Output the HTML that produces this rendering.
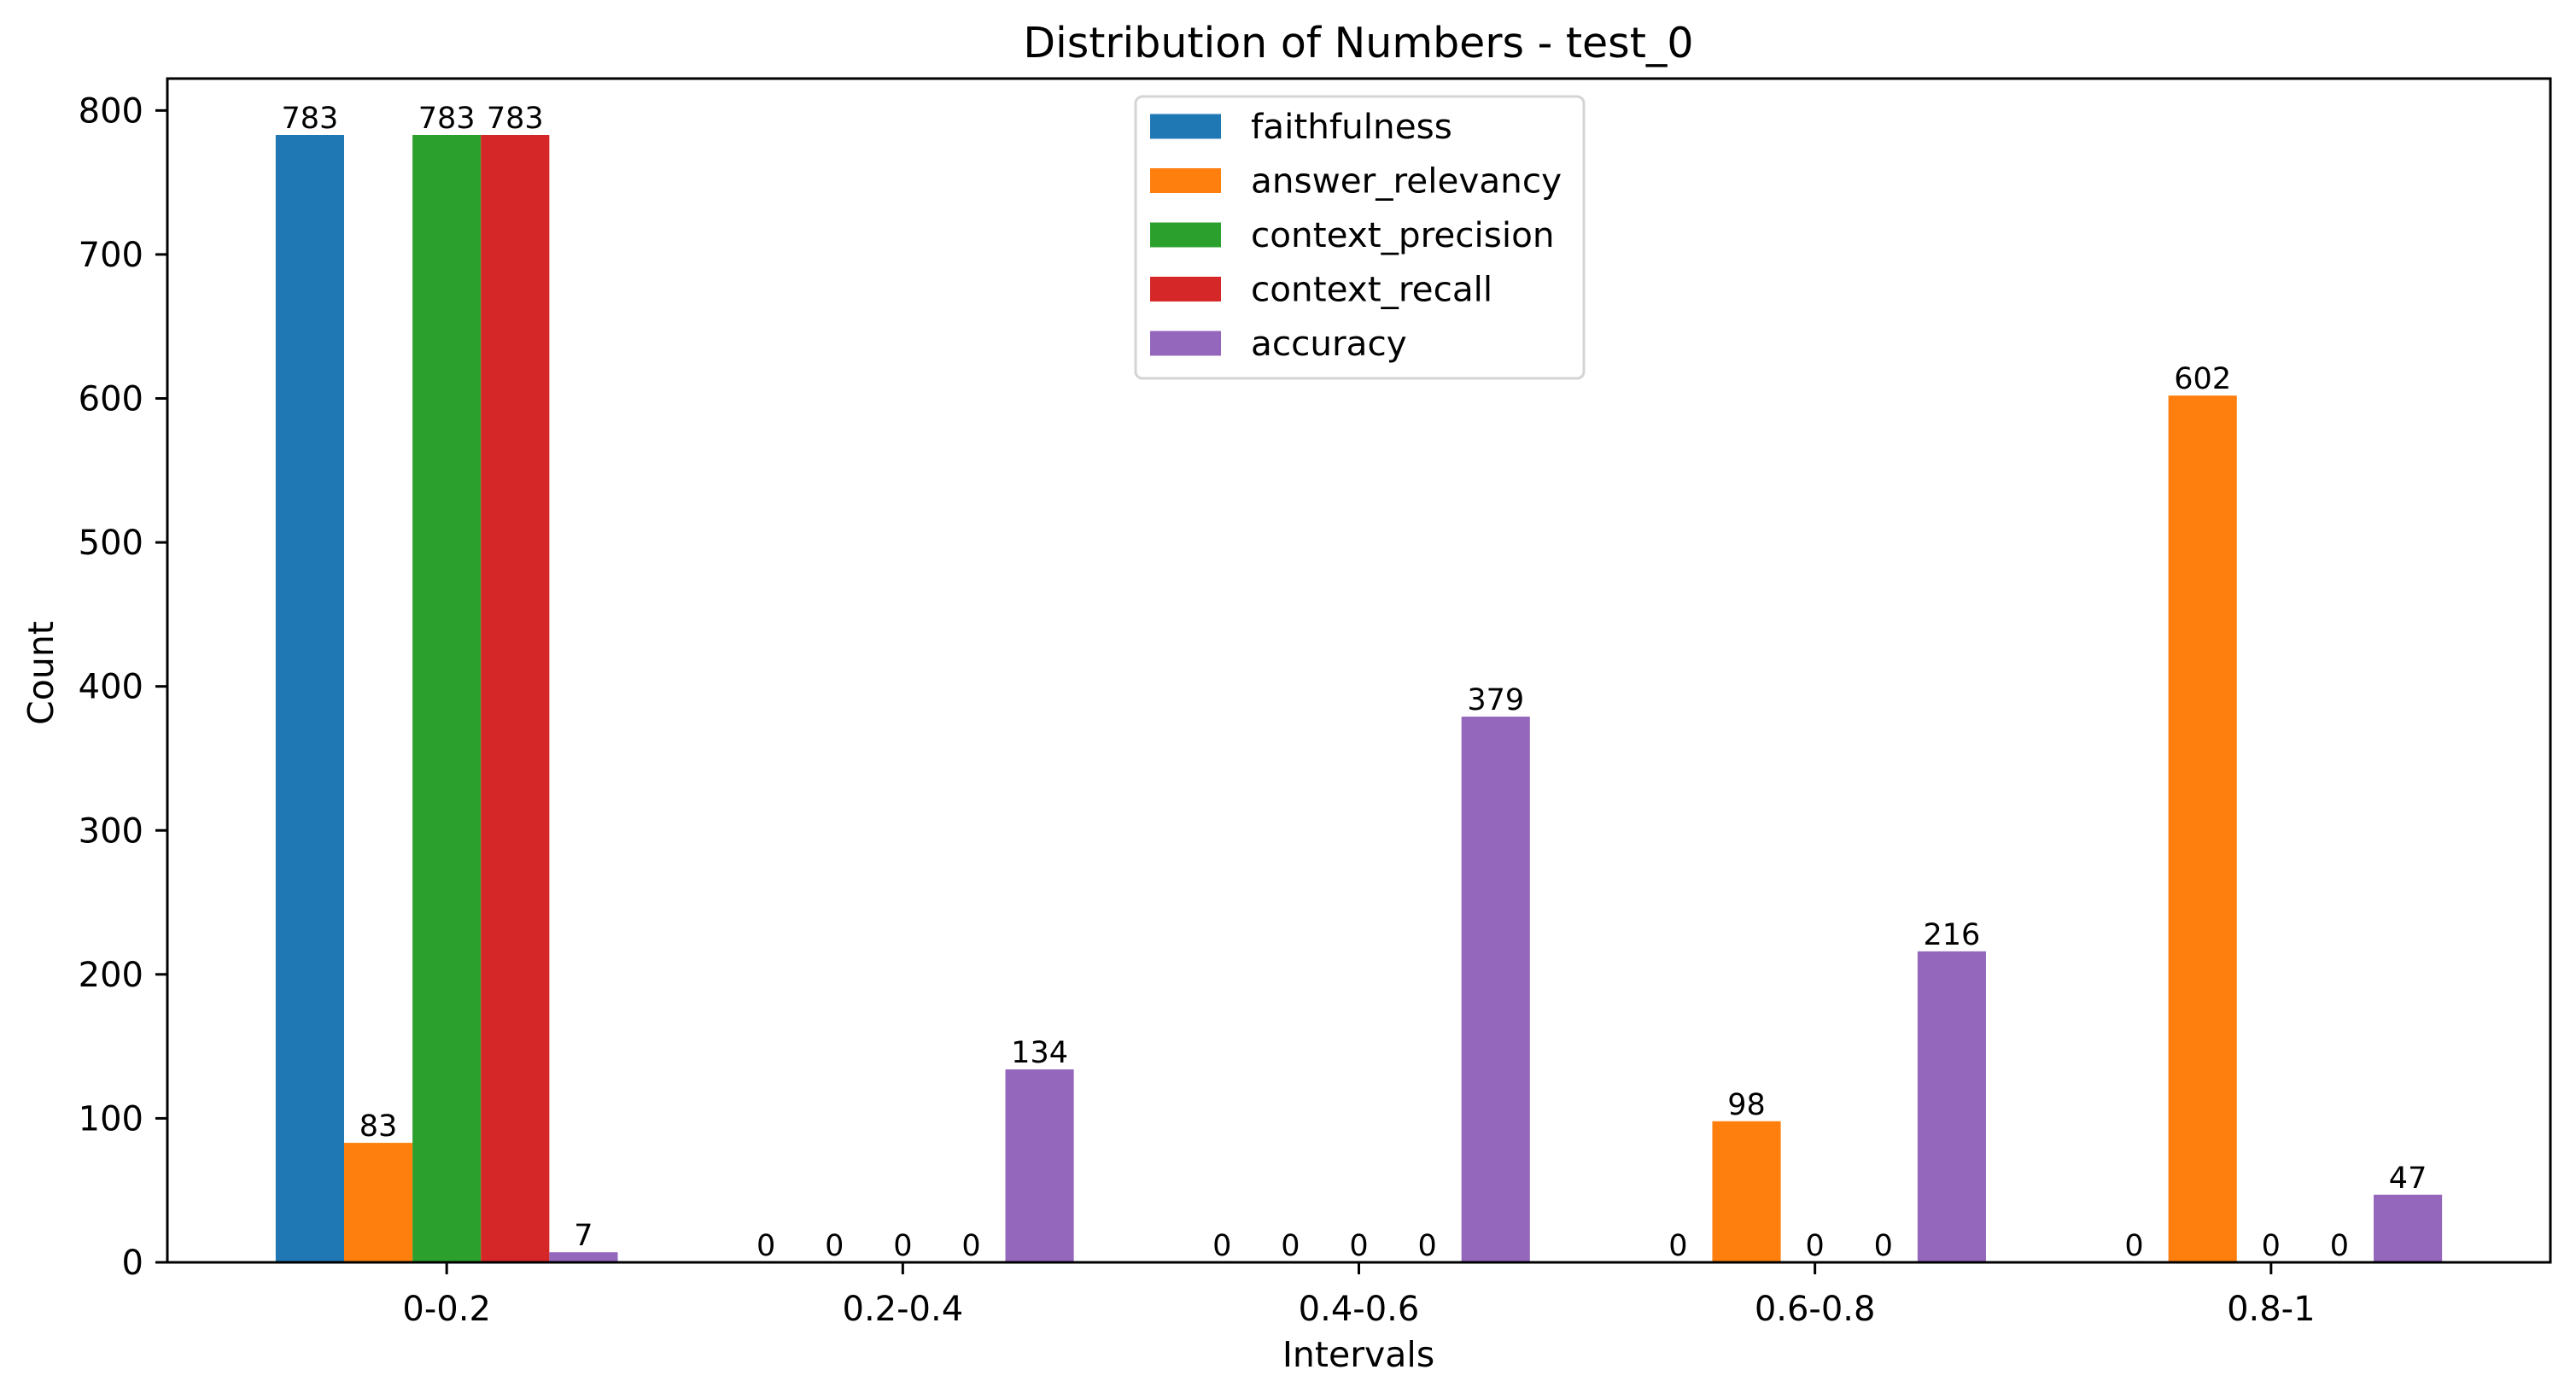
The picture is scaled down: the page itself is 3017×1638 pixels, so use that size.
<!DOCTYPE html>
<html><head><meta charset="utf-8"><style>
html,body{margin:0;padding:0;background:#fff;}
svg{display:block;font-family:"DejaVu Sans","Liberation Sans",sans-serif;}
</style></head><body>
<svg id="chart" width="3017" height="1638" viewBox="0 0 3017 1638" xmlns="http://www.w3.org/2000/svg">
<rect width="3017" height="1638" fill="#fff"/>
<text x="1591" y="67" font-size="49" text-anchor="middle">Distribution of Numbers - test_0</text>
<text x="1591" y="1600" font-size="41" text-anchor="middle">Intervals</text>
<text x="0" y="0" font-size="41" text-anchor="middle" transform="translate(62,788) rotate(-90)">Count</text>
<g id="plot"></g>
</svg>
<script>
const categories = ["0-0.2","0.2-0.4","0.4-0.6","0.6-0.8","0.8-1"];
const seriesNames = ["faithfulness","answer_relevancy","context_precision","context_recall","accuracy"];
const faithfulness = [783,0,0,0,0];
const answerRelevancy = [83,0,0,98,602];
const contextPrecision = [783,0,0,0,0];
const contextRecall = [783,0,0,0,0];
const accuracy = [7,134,379,216,47];
const yTicks = [0,100,200,300,400,500,600,700,800];

const seriesValues = [faithfulness, answerRelevancy, contextPrecision, contextRecall, accuracy];
const colors = ["#1f77b4","#ff7f0e","#2ca02c","#d62728","#9467bd"];
const NS = "http://www.w3.org/2000/svg";
const L=196,R=2987,T=92,B=1478;
const barW=0.15;
const nS=seriesNames.length;
const xMin=-(nS/2)*barW - (categories.length-1+nS*barW)*0.05;
const xMax=(categories.length-1)+(nS/2)*barW + (categories.length-1+nS*barW)*0.05;
let maxV=0; seriesValues.forEach(s=>s.forEach(v=>{if(v>maxV)maxV=v;}));
const yMax=maxV*1.05;
const xs=v=>L+(v-xMin)/(xMax-xMin)*(R-L);
const ys=v=>B-v/yMax*(B-T);
const g=document.getElementById('plot');
function mk(tag,attrs,parent){const e=document.createElementNS(NS,tag);for(const k in attrs)e.setAttribute(k,attrs[k]);(parent||g).appendChild(e);return e;}

seriesValues.forEach((vals,j)=>{
  vals.forEach((v,i)=>{
    const c=i+(j-(nS-1)/2)*barW;
    const x0=xs(c-barW/2), x1=xs(c+barW/2);
    const r=mk('rect',{x:x0,y:ys(v),width:x1-x0,height:B-ys(v),fill:colors[j]});
    
    
    const t=mk('text',{x:xs(c),y:ys(v)-8,'font-size':35,'text-anchor':'middle'});
    t.textContent=String(v);
    
    
  });
});

const frame=mk('rect',{x:L,y:T,width:R-L,height:B-T,fill:'none',stroke:'#000','stroke-width':3});



yTicks.forEach(v=>{
  const y=ys(v);
  const tk=mk('line',{x1:L-14,x2:L,y1:y,y2:y,stroke:'#000','stroke-width':3});
  
  
  const t=mk('text',{x:L-28,y:y+14,'font-size':40,'text-anchor':'end'});
  t.textContent=String(v);
  
  
});
categories.forEach((c,i)=>{
  const x=xs(i);
  const tk=mk('line',{x1:x,x2:x,y1:B,y2:B+14,stroke:'#000','stroke-width':3});
  
  
  const t=mk('text',{x:x,y:B+68,'font-size':40,'text-anchor':'middle'});
  t.textContent=c;
  
  
});

const lg=mk('g',{});


mk('rect',{x:1330,y:113,width:525,height:330,rx:8,fill:'#fff','fill-opacity':0.8,stroke:'#d4d4d4','stroke-width':3},lg);
seriesNames.forEach((n,j)=>{
  const cy=148+j*63.5;
  const e=mk('g',{},lg);
  
  
  mk('rect',{x:1347,y:cy-14.5,width:83,height:29,fill:colors[j]},e);
  const t=mk('text',{x:1465,y:cy+14,'font-size':40.5},e);
  t.textContent=n;
});
</script>
</body></html>
